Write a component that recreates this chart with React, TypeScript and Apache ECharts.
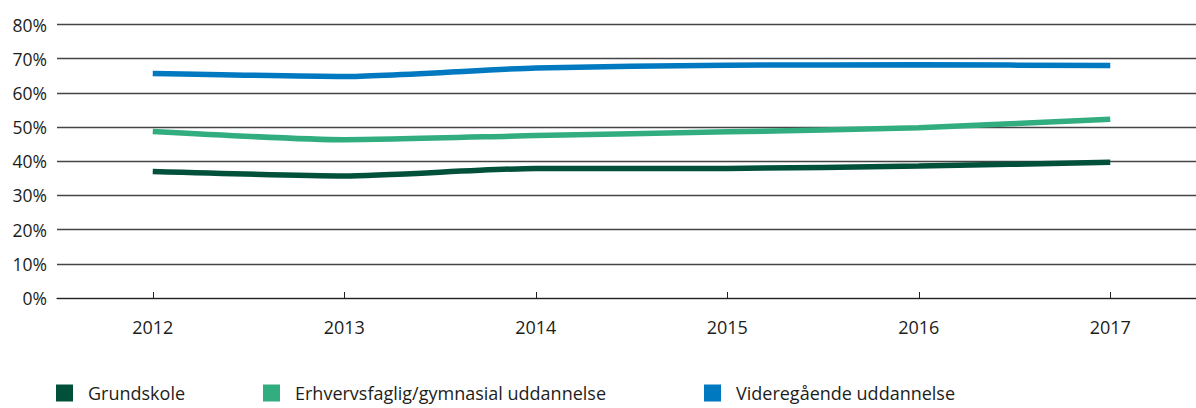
import React, { useEffect, useRef } from "react";
import * as echarts from "echarts";

const years = ["2012", "2013", "2014", "2015", "2016", "2017"];
const grundskole = [37.0, 35.7, 37.9, 37.9, 38.6, 39.7];
const erhverv = [48.7, 46.3, 47.5, 48.6, 49.8, 52.3];
const videre = [65.7, 64.8, 67.3, 68.1, 68.2, 68.0];
const seriesNames = ["Grundskole", "Erhvervsfaglig/gymnasial uddannelse", "Videregående uddannelse"];
const colors = ["#00503a", "#31ad80", "#0079c1"];
const legendLeft = [56, 263, 704];

export default function App() {
  const ref = useRef<HTMLDivElement>(null);
  useEffect(() => {
    if (!ref.current) return;
    const chart = echarts.init(ref.current, undefined, { renderer: "svg" });
    const font = "'Open Sans', Lato, sans-serif";
    const data = [grundskole, erhverv, videre];
    chart.setOption({
      animation: false,
      textStyle: { fontFamily: font },
      grid: { left: 57, right: 0, top: 24.5, bottom: 110 },
      legend: seriesNames.map((n, i) => ({
        data: [n],
        left: legendLeft[i],
        top: 384,
        icon: "rect",
        itemWidth: 17,
        itemHeight: 17,
        itemGap: 10,
        textStyle: { fontSize: 18, lineHeight: 18, color: "#1d1d1b", fontFamily: font, padding: [0, 0, 0, 10] },
        padding: 0,
      })),
      xAxis: {
        type: "category",
        data: years,
        boundaryGap: true,
        axisLine: { lineStyle: { color: "#222", width: 1.2 } },
        axisTick: { show: true, inside: true, length: 6, alignWithLabel: true, lineStyle: { color: "#222" } },
        axisLabel: { fontSize: 18, color: "#1d1d1b", margin: 20 },
      },
      yAxis: {
        type: "value",
        min: 0,
        max: 80,
        interval: 10,
        axisLine: { show: false },
        axisTick: { show: false },
        axisLabel: { fontSize: 17.5, color: "#1d1d1b", margin: 10, formatter: "{value}%" },
        splitLine: { lineStyle: { color: "#444", width: 1.3 } },
      },
      series: data.map((d, i) => ({
        name: seriesNames[i],
        type: "line",
        data: d,
        smooth: 0.2,
        symbol: "none",
        color: colors[i],
        lineStyle: { width: 5.5, color: colors[i], cap: "butt" },
      })),
    });
    return () => chart.dispose();
  }, []);
  return (
    <div style={{ position: "absolute", left: 0, top: 0, width: 1196, height: 408, overflow: "hidden" }}>
      <div ref={ref} style={{ width: 1206, height: 408 }} />
    </div>
  );
}
